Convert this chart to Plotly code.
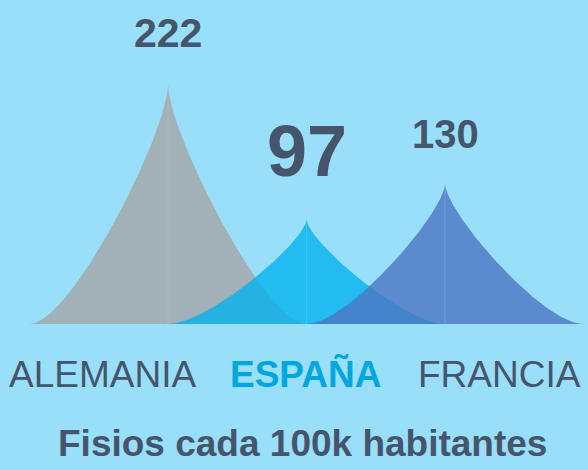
import numpy as np
import plotly.graph_objects as go

countries = ["ALEMANIA", "ESPAÑA", "FRANCIA"]
values = [222, 97, 130]
value_labels = ["222", "97", "130"]
title_text = "Fisios cada 100k habitantes"

fill_colors = ["rgba(162,176,184,1)", "rgba(0,177,238,0.77)", "rgba(75,117,195,0.8)"]
label_colors = ["#45556C", "#00A6E0", "#45556C"]
label_bold = [False, True, False]
label_x = [0.1735, 0.52, 0.85]
value_sizes = [41, 72, 40]

BG = "#99DFF9"
TXT = "#45556C"
FONT = "Arial, Liberation Sans, sans-serif"

# concave spike outline: cubic Bezier from tip to base edge (w = half-width frac, s = depth frac)
t = np.linspace(0, 1, 150)
a, b = 0.2, 0.7
w = 3 * (1 - t) * t ** 2 * b + t ** 3
s = 3 * (1 - t) ** 2 * t * a + 3 * (1 - t) * t ** 2 + t ** 3

fig = go.Figure()
for i, v in enumerate(values):
    # left side from base edge to tip, right side from tip to base edge
    xl = i - w[::-1]
    yl = v * (1 - s[::-1])
    xr = i + w
    yr = v * (1 - s)
    xs = np.concatenate([xl, xr])
    ys = np.concatenate([yl, yr])
    fig.add_trace(go.Scatter(x=xs, y=ys, fill="toself", mode="lines",
                             line=dict(width=0), fillcolor=fill_colors[i],
                             hoverinfo="skip", showlegend=False))
    fig.add_trace(go.Scatter(x=[i, i], y=[0, v * 0.97], mode="lines",
                             line=dict(width=1, color="rgba(255,255,255,0.12)"),
                             hoverinfo="skip", showlegend=False))

for i, v in enumerate(values):
    fig.add_annotation(x=i, y=v, xref="x", yref="y", text=value_labels[i],
                       showarrow=False, yanchor="bottom", yshift=26,
                       font=dict(family=FONT, size=value_sizes[i], color=TXT, weight="bold"))

for i, c in enumerate(countries):
    fig.add_annotation(x=label_x[i], y=0.204, xref="paper", yref="paper", text=c,
                       showarrow=False, xanchor="center", yanchor="middle",
                       font=dict(family=FONT, size=37, color=label_colors[i],
                                 weight="bold" if label_bold[i] else "normal"))

fig.add_annotation(x=0.515, y=0.057, xref="paper", yref="paper", text=title_text,
                   showarrow=False, xanchor="center", yanchor="middle",
                   font=dict(family=FONT, size=37, color=TXT, weight="bold"))

fig.update_layout(width=588, height=470, margin=dict(l=0, r=0, t=0, b=0),
                  paper_bgcolor=BG, plot_bgcolor=BG,
                  xaxis=dict(range=[-1.213, 3.032], visible=False, fixedrange=True),
                  yaxis=dict(range=[-135.2, 300], visible=False, fixedrange=True))
fig.write_html("out.html", config={"displayModeBar": False},
               post_script="document.body.style.margin='0';document.body.style.background='" + BG + "';")
